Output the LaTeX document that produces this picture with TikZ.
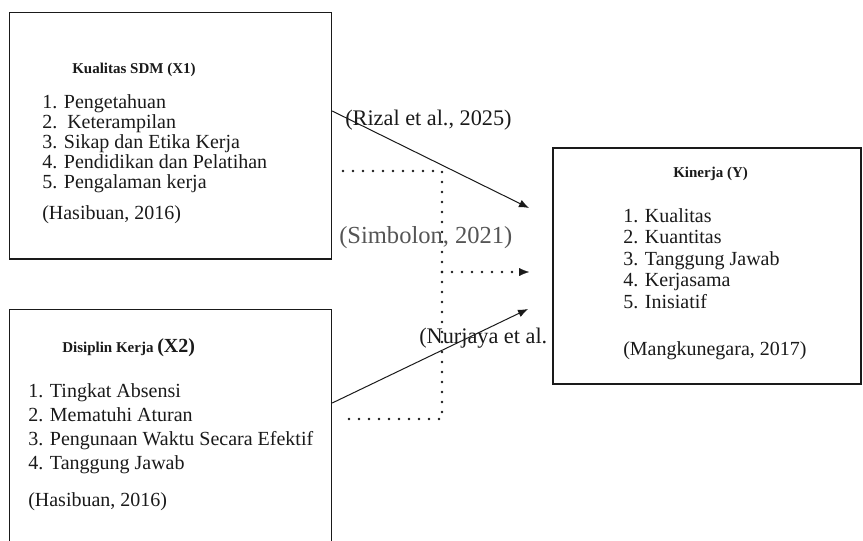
\documentclass[tikz,border=0pt]{standalone}
\usepackage{fontspec}
\setmainfont{Liberation Serif}
\usetikzlibrary{arrows.meta}
\definecolor{ink}{HTML}{1A1A1A}
\definecolor{inkgray}{HTML}{555555}
\tikzset{
  panel/.style={draw=ink,line width=0.8pt,fill=white,inner sep=0pt},
  itemtxt/.style={anchor=base west,inner sep=0pt,text=ink,font=\fontsize{15}{18}\selectfont},
  headtxt/.style={anchor=base west,inner sep=0pt,text=ink,font=\bfseries\fontsize{11.25}{13}\selectfont},
  citetxt/.style={anchor=base west,inner sep=0pt,text=ink,font=\fontsize{16.7}{20}\selectfont},
  flowarr/.style={-{Latex[length=7.5pt,width=6pt]},line width=0.75pt,draw=ink},
  dotline/.style={line width=2pt,line cap=round,dash pattern=on 0pt off 7.5pt,draw=ink},
  dotarr/.style={dotline,-{Latex[length=7.5pt,width=6pt,line width=0.1pt]}}
}

\begin{document}
\begin{tikzpicture}[x=0.75pt,y=-0.75pt]
  \useasboundingbox (0,0) rectangle (863,540);
  \fill[white] (0,0) rectangle (863,540);

  % the three boxes
  \node[panel,minimum width=241.6pt,minimum height=185.2pt] (sdm) at (170.6,135.5) {};
  \node[panel,minimum width=241.6pt,minimum height=218.2pt] (disiplin) at (170.6,454.5) {};
  \node[panel,minimum width=231pt,minimum height=177pt] (kinerja) at (707,266) {};

  % Kualitas SDM
  \node[headtxt] (sdmhead) at (72,73) {Kualitas SDM (X1)};
  \foreach \t [count=\i from 0] in {1. Pengetahuan,2.\ \ Keterampilan,3. Sikap dan Etika Kerja,4. Pendidikan dan Pelatihan,5. Pengalaman kerja}
    \node[itemtxt] (sdm-\i) at (42,{108+20*\i}) {\t};
  \node[itemtxt] (sdmref) at (42,219) {(Hasibuan, 2016)};

  % Disiplin Kerja
  \node[headtxt] (dishead) at (62,352) {Disiplin Kerja \fontsize{15}{18}\selectfont(X2)};
  \foreach \t [count=\i from 0] in {1. Tingkat Absensi,2. Mematuhi Aturan,3. Pengunaan Waktu Secara Efektif,4. Tanggung Jawab}
    \node[itemtxt] (dis-\i) at (28,{397+24.3*\i}) {\t};
  \node[itemtxt] (disref) at (28,506) {(Hasibuan, 2016)};

  % Kinerja
  \node[headtxt] (kinhead) at (673,177) {Kinerja (Y)};
  \foreach \t [count=\i from 0] in {1. Kualitas,2. Kuantitas,3. Tanggung Jawab,4. Kerjasama,5. Inisiatif}
    \node[itemtxt] (kin-\i) at (623,{222+21.5*\i}) {\t};
  \node[itemtxt] (kinref) at (623,355) {(Mangkunegara, 2017)};

  % connectors
  \coordinate (t1) at (529,208);
  \coordinate (t2) at (529,272);
  \coordinate (t3) at (528,309);
  \coordinate (d1) at (343,171);
  \coordinate (d2) at (442,171);
  \coordinate (d3) at (442,419);
  \coordinate (d4) at (343,419);
  \coordinate (jn) at (442,272);
  \draw[dotline] (d1) -- (d2) -- (d3) -- (d4);
  \draw[dotarr] (jn) -- (t2);

  \node[citetxt] (rizal) at (345,125) {(Rizal et al., 2025)};
  \node[citetxt,text=inkgray,font=\fontsize{18.4}{22}\selectfont] (simbolon) at (339,243) {(Simbolon, 2021)};
  \node[citetxt] (nurjaya) at (419,343) {(Nurjaya et al.};

  \draw[flowarr] (sdm.east |- 0,111) -- (t1);
  \draw[flowarr] (disiplin.east |- 0,403) -- (t3);
\end{tikzpicture}
\end{document}
